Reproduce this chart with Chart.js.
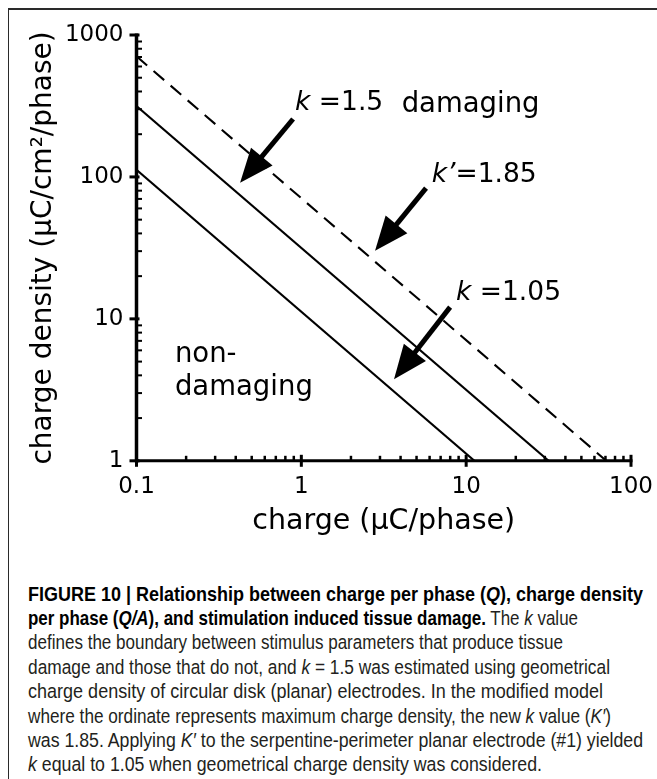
<!DOCTYPE html>
<html>
<head>
<meta charset="utf-8">
<script src="https://cdn.jsdelivr.net/npm/chart.js@4.4.1/dist/chart.umd.min.js"></script>
<style>
  html, body { margin: 0; padding: 0; background: #fff; }
  body { width: 657px; height: 779px; position: relative; overflow: hidden; }
  #frameTop { position: absolute; left: 9px; top: 8px; width: 648px; height: 0; border-top: 2px solid #2a2a2a; }
  #frameLeft { position: absolute; left: 8px; top: 8px; width: 0; height: 771px; border-left: 1.5px solid #2a2a2a; }
  #plot { position: absolute; left: 0; top: 0; }
  #caption { position: absolute; left: 28px; top: 581.5px; font-family: "Liberation Sans", Arial, sans-serif;
             font-size: 20.5px; line-height: 24.4px; color: #231f20; }
  #caption .ln { white-space: nowrap; width: max-content; transform-origin: 0 0; }
  #caption b { color: #000; }
</style>
</head>
<body>
<div id="frameTop"></div>
<div id="frameLeft"></div>
<canvas id="plot" width="657" height="545"></canvas>
<div id="caption">
  <div class="ln"><b>FIGURE 10 | Relationship between charge per phase (<i>Q</i>), charge density</b></div>
  <div class="ln"><b>per phase (<i>Q/A</i>), and stimulation induced tissue damage.</b> The <i>k</i> value</div>
  <div class="ln">defines the boundary between stimulus parameters that produce tissue</div>
  <div class="ln">damage and those that do not, and <i>k</i> = 1.5 was estimated using geometrical</div>
  <div class="ln">charge density of circular disk (planar) electrodes. In the modified model</div>
  <div class="ln">where the ordinate represents maximum charge density, the new <i>k</i> value (<i>K′</i>)</div>
  <div class="ln">was 1.85. Applying <i>K′</i> to the serpentine-perimeter planar electrode (#1) yielded</div>
  <div class="ln"><i>k</i> equal to 1.05 when geometrical charge density was considered.</div>
</div>
<script>
// Shannon-type damage boundaries: log(Q/A) = k - log(Q)
const boundaryNames = ['k = 1.05', 'k = 1.5', "k' = 1.85"];
const kValues = [1.05, 1.5, 1.85];
const chargeMin = 0.1;      // μC/phase, where each boundary leaves the ordinate
const densityFloor = 1;     // μC/cm²/phase, where each boundary meets the abscissa

const xTickValues = [0.1, 1, 10, 100];
const xTickLabels = ['0.1', '1', '10', '100'];
const yTickValues = [1, 10, 100, 1000];
const yTickLabels = ['1', '10', '100', '1000'];

const FONT = '"DejaVu Sans", "Liberation Sans", sans-serif';

function labelFor(values, labels, v) {
  const i = values.findIndex(t => Math.abs(Math.log10(t) - Math.log10(v)) < 1e-6);
  return i >= 0 ? labels[i] : '';
}

const datasets = boundaryNames.map((name, i) => {
  const k = kValues[i];
  return {
    label: name,
    data: [
      { x: chargeMin, y: Math.pow(10, k) / chargeMin },
      { x: Math.pow(10, k) / densityFloor, y: densityFloor }
    ],
    showLine: true,
    borderColor: '#000',
    borderWidth: 2.1,
    borderDash: name.startsWith("k'") ? [14, 8.5] : [],
    pointRadius: 0,
    fill: false
  };
});

// Text callouts and arrows, placed in data coordinates (charge, density)
const callouts = [
  { at: [0.916, 296], size: 26.5, parts: [['k', true], [' =1.5', false]] },
  { at: [4.06, 287], size: 27.5, parts: [['damaging', false]] },
  { at: [6.18, 92.5], size: 26.5, parts: [['k’', true], ['=1.85', false]] },
  { at: [8.68, 13.6], size: 26.5, parts: [['k', true], [' =1.05', false]] },
  { at: [0.171, 4.99], size: 27.5, parts: [['non-', false]] },
  { at: [0.171, 2.90], size: 27.5, parts: [['damaging', false]] }
];
const arrows = [
  { from: [0.891, 256], to: [0.425, 91.0] },
  { from: [5.71, 83.5], to: [2.80, 30.2] },
  { from: [7.99, 12.1], to: [3.65, 3.76] }
];

const axesAndNotes = {
  id: 'axesAndNotes',
  afterDatasetsDraw(chart) {
    const { ctx, scales: { x, y } } = chart;
    const x0 = x.getPixelForValue(0.1), x1 = x.getPixelForValue(100);
    const y0 = y.getPixelForValue(1), y1 = y.getPixelForValue(1000);
    ctx.save();
    ctx.strokeStyle = '#000';
    ctx.fillStyle = '#000';
    ctx.lineCap = 'butt';

    // axis lines
    ctx.lineWidth = 3.5;
    ctx.beginPath(); ctx.moveTo(x0, y0 + 1.5); ctx.lineTo(x0, y1 - 1.5); ctx.stroke();
    ctx.lineWidth = 3;
    ctx.beginPath(); ctx.moveTo(x0 - 1.5, y0); ctx.lineTo(x1 + 1.5, y0); ctx.stroke();

    // minor ticks (inward) and major ticks (across the axis)
    for (let e = -1; e < 2; e++) {
      for (let m = 2; m <= 9; m++) {
        const px = x.getPixelForValue(m * Math.pow(10, e));
        ctx.lineWidth = 2.5;
        ctx.beginPath(); ctx.moveTo(px, y0); ctx.lineTo(px, y0 - 5); ctx.stroke();
      }
    }
    for (let e = 0; e < 3; e++) {
      for (let m = 2; m <= 9; m++) {
        const py = y.getPixelForValue(m * Math.pow(10, e));
        ctx.lineWidth = 2;
        ctx.beginPath(); ctx.moveTo(x0, py); ctx.lineTo(x0 + 5.5, py); ctx.stroke();
      }
    }
    xTickValues.forEach(v => {
      const px = x.getPixelForValue(v);
      ctx.lineWidth = 3;
      ctx.beginPath(); ctx.moveTo(px, y0 - 6); ctx.lineTo(px, y0 + 6); ctx.stroke();
    });
    yTickValues.forEach(v => {
      const py = y.getPixelForValue(v);
      ctx.lineWidth = 3;
      ctx.beginPath(); ctx.moveTo(x0 - 7, py); ctx.lineTo(x0 + 3, py); ctx.stroke();
    });

    // arrows
    arrows.forEach(a => {
      const tx = x.getPixelForValue(a.from[0]), ty = y.getPixelForValue(a.from[1]);
      const hx = x.getPixelForValue(a.to[0]), hy = y.getPixelForValue(a.to[1]);
      const len = Math.hypot(hx - tx, hy - ty);
      const ux = (hx - tx) / len, uy = (hy - ty) / len;
      const headLen = 34, halfW = 14;
      const bx = hx - ux * headLen, by = hy - uy * headLen;
      ctx.lineWidth = 5;
      ctx.beginPath(); ctx.moveTo(tx, ty); ctx.lineTo(bx + ux * 2, by + uy * 2); ctx.stroke();
      ctx.beginPath();
      ctx.moveTo(hx, hy);
      ctx.lineTo(bx - uy * halfW, by + ux * halfW);
      ctx.lineTo(bx + uy * halfW, by - ux * halfW);
      ctx.closePath(); ctx.fill();
    });

    // text callouts
    ctx.textBaseline = 'alphabetic';
    ctx.textAlign = 'left';
    callouts.forEach(c => {
      let cx = x.getPixelForValue(c.at[0]);
      const cy = y.getPixelForValue(c.at[1]);
      c.parts.forEach(([t, italic]) => {
        ctx.font = (italic ? 'italic ' : '') + c.size + 'px ' + FONT;
        ctx.fillText(t, cx, cy);
        cx += ctx.measureText(t).width;
      });
    });
    ctx.restore();
  }
};

new Chart(document.getElementById('plot'), {
  type: 'scatter',
  data: { datasets },
  options: {
    responsive: false,
    animation: false,
    devicePixelRatio: 1,
    layout: { padding: { left: 0, right: 26, top: 35, bottom: 0 } },
    plugins: { legend: { display: false }, tooltip: { enabled: false } },
    scales: {
      x: {
        type: 'logarithmic', min: 0.1, max: 100, position: 'bottom',
        grid: { display: false, drawTicks: false }, border: { display: false },
        ticks: {
          autoSkip: false, maxRotation: 0, padding: 12, color: '#000',
          font: { family: FONT, size: 23 },
          callback: v => labelFor(xTickValues, xTickLabels, v)
        },
        title: { display: true, text: 'charge (μC/phase)', color: '#000',
                 font: { family: FONT, size: 28.5 }, padding: { top: 0, bottom: 6.5 } },
        afterFit(s) { s.height = 84.2; s.paddingLeft = 0; s.paddingRight = 0; }
      },
      y: {
        type: 'logarithmic', min: 1, max: 1000, position: 'left',
        grid: { display: false, drawTicks: false }, border: { display: false },
        ticks: {
          autoSkip: false, padding: 13, color: '#000',
          font: { family: FONT, size: 23 },
          callback: v => labelFor(yTickValues, yTickLabels, v)
        },
        title: { display: true, text: 'charge density (μC/cm²/phase)', color: '#000',
                 font: { family: FONT, size: 28 }, padding: { top: 26.7, bottom: 0 } },
        afterFit(s) { s.width = 136.5; s.paddingTop = 0; s.paddingBottom = 0; }
      }
    }
  },
  plugins: [axesAndNotes]
});

// caption set ragged-right in a condensed measure; each line squeezed to its printed length
const captionLineWidths = [615, 550, 535, 582, 575, 583, 615, 514];
document.querySelectorAll('#caption .ln').forEach((el, i) => {
  const w = el.getBoundingClientRect().width;
  el.style.transform = 'scaleX(' + (captionLineWidths[i] / w) + ')';
});
</script>
</body>
</html>
